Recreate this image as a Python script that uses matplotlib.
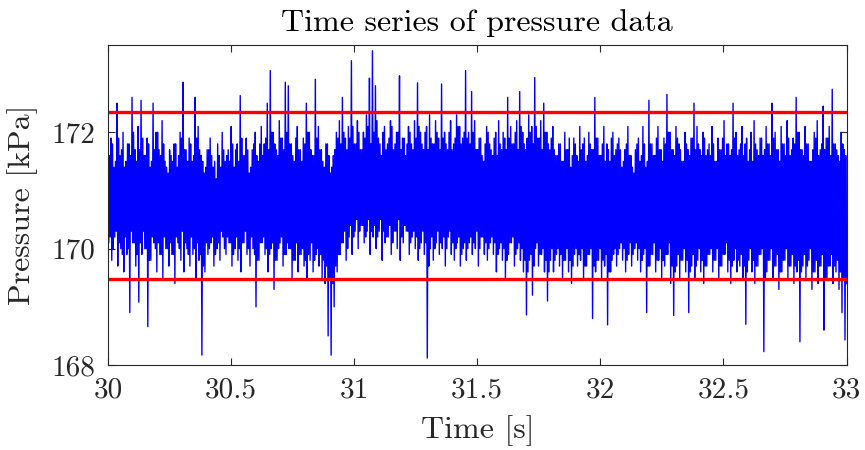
import numpy as np
import matplotlib
matplotlib.use("Agg")
import matplotlib.pyplot as plt

# ---- data ----
t_start, t_end = 30.0, 33.0

# outer excursions (spikes) per ~12 ms
upper_peaks = [
    171.7, 171.9, 171.4, 172.5, 171.6, 172.0, 171.5, 171.8, 172.6, 171.7,
    172.1, 172.55, 171.6, 171.9, 171.4, 172.5, 172.0, 171.7, 172.2, 171.5,
    171.3, 171.6, 171.8, 171.4, 172.0, 172.86, 171.7, 171.9, 171.5, 172.6,
    172.1, 171.6, 171.3, 171.7, 171.9, 171.4, 171.2, 171.6, 172.0, 171.5,
    171.7, 172.1, 171.4, 171.8, 172.63, 171.6, 171.9, 171.3, 171.7, 172.0,
    171.5, 172.1, 171.8, 172.5, 173.06, 172.0, 171.7, 172.2, 171.9, 172.86,
    172.8, 171.8, 171.5, 172.1, 171.7, 171.9, 172.5, 172.0, 171.6, 172.91,
    172.1, 171.7, 171.4, 171.8, 171.3, 171.6, 172.0, 172.2, 172.6, 171.9,
    172.1, 173.23, 171.8, 172.2, 171.7, 172.0, 172.3, 172.93, 173.40, 172.8,
    171.9, 171.6, 172.1, 171.8, 172.2, 171.7, 172.0, 172.97, 171.9, 171.6,
    172.1, 171.8, 172.2, 172.85, 172.0, 171.7, 172.1, 172.3, 171.8, 172.2,
    171.9, 172.83, 172.0, 171.7, 172.2, 171.8, 172.3, 172.1, 171.9, 173.06,
    172.0, 172.7, 172.2, 171.7, 171.9, 171.5, 172.1, 171.8, 171.6, 172.0,
    172.2, 171.7, 171.9, 172.6, 172.1, 171.8, 172.2, 172.7, 172.0, 171.7,
    172.3, 172.1, 172.94, 171.9, 172.2, 172.5, 172.0, 171.7, 172.1, 171.6,
    171.8, 171.5, 172.0, 171.7, 171.4, 171.9, 171.6, 172.1, 171.8, 171.5,
    172.0, 171.7, 172.6, 171.9, 171.6, 172.1, 171.8, 171.5, 172.0, 171.7,
    171.9, 171.4, 171.7, 172.1, 171.6, 171.3, 171.8, 171.5, 172.1, 171.4,
    172.55, 171.8, 171.6, 172.1, 171.7, 171.9, 172.65, 172.0, 171.7, 172.1,
    171.8, 171.5, 172.0, 171.7, 171.9, 172.5, 172.1, 171.7, 172.0, 171.6,
    171.8, 172.1, 171.5, 171.9, 171.7, 172.2, 171.8, 171.6, 172.5, 172.0,
    171.7, 172.1, 171.8, 171.5, 172.0, 172.2, 171.7, 171.9, 171.6, 172.1,
    171.8, 172.5, 172.0, 171.7, 172.1, 171.8, 172.2, 171.6, 171.9, 172.6,
    172.0, 171.7, 172.1, 171.8, 171.5, 172.0, 172.2, 171.7, 172.45, 171.9,
    172.1, 172.74, 171.8, 171.6, 172.0, 171.7,
]

lower_troughs = [
    170.1, 169.8, 170.2, 169.7, 170.0, 169.6, 169.9, 168.9, 170.1, 169.7,
    169.08, 169.9, 170.0, 168.66, 169.8, 170.1, 169.6, 169.9, 169.5, 170.0,
    169.7, 169.9, 169.4, 170.1, 169.8, 169.6, 170.0, 169.7, 169.9, 169.5,
    169.8, 168.17, 169.6, 169.9, 170.1, 169.7, 170.0, 169.8, 170.2, 169.9,
    170.1, 169.7, 170.0, 169.8, 169.6, 170.1, 169.9, 169.7, 170.0, 169.0,
    169.8, 170.1, 169.9, 169.6, 170.0, 169.3, 169.8, 170.1, 169.7, 169.9,
    170.0, 169.5, 169.8, 169.6, 169.9, 169.7, 169.5, 169.8, 169.6, 169.9,
    169.7, 169.5, 169.4, 168.5, 168.17, 169.0, 169.6, 169.9, 170.1, 169.8,
    170.2, 169.9, 170.3, 170.0, 170.4, 170.1, 170.3, 169.9, 170.2, 170.0,
    170.3, 169.8, 170.1, 170.2, 169.9, 170.3, 170.0, 169.8, 170.1, 170.3,
    169.9, 170.2, 170.0, 169.8, 170.1, 169.9, 168.12, 170.0, 169.8, 170.1,
    169.9, 170.0, 169.7, 170.2, 169.9, 169.8, 170.1, 169.7, 170.0, 169.8,
    170.1, 169.9, 170.0, 169.7, 170.2, 169.9, 169.8, 170.1, 169.9, 169.6,
    170.0, 169.8, 169.5, 169.9, 170.1, 169.7, 170.0, 169.8, 169.6, 168.86,
    169.8, 169.2, 170.0, 169.7, 169.9, 169.6, 169.1, 169.8, 169.6, 169.9,
    169.7, 169.5, 169.8, 169.6, 169.4, 169.9, 169.7, 169.8, 169.5, 169.7,
    169.9, 168.8, 169.6, 169.8, 169.5, 169.7, 168.69, 169.6, 169.9, 169.7,
    170.0, 169.8, 169.6, 169.9, 169.7, 170.0, 169.8, 169.6, 169.9, 168.9,
    169.7, 169.9, 169.6, 169.8, 169.5, 169.7, 169.9, 169.4, 168.85, 169.7,
    169.5, 169.8, 169.6, 168.9, 169.7, 169.5, 169.8, 169.6, 169.4, 169.7,
    169.9, 169.6, 169.8, 169.5, 169.7, 169.9, 169.6, 169.4, 169.8, 169.6,
    169.7, 169.5, 168.7, 169.8, 169.6, 169.4, 169.7, 169.9, 168.23, 169.6,
    169.8, 169.5, 169.7, 169.3, 169.6, 169.8, 169.5, 169.7, 169.4, 169.6,
    168.4, 169.7, 169.5, 169.8, 169.3, 169.6, 169.4, 169.7, 168.6, 169.5,
    169.7, 169.4, 169.6, 169.3, 168.9, 168.43,
]

# inner (core band) excursions in between
upper_core = [
    171.6, 171.8, 171.5, 171.9, 171.7, 171.4, 171.8, 171.6, 172.0, 171.5,
    171.7, 171.9, 171.6, 171.8, 171.5, 171.7, 172.0, 171.6, 171.8, 171.4,
    171.7, 171.5, 171.8, 171.6, 171.9, 171.7, 171.5, 171.8, 171.6, 171.9,
    171.7, 171.5, 171.4, 171.7, 171.6, 171.5, 171.8, 171.4, 171.7, 171.6,
    171.5, 171.8, 171.7, 171.5, 171.9, 171.6, 171.7, 171.4, 171.8, 171.6,
    171.8, 171.6, 171.9, 171.7, 172.0, 171.8, 171.6, 171.9, 171.7, 172.0,
    171.8, 171.6, 171.9, 171.7, 171.5, 171.8, 172.0, 171.7, 171.6, 171.9,
    171.7, 171.5, 171.8, 171.6, 171.4, 171.7, 171.9, 171.8, 172.0, 171.7,
    171.9, 172.1, 171.8, 172.0, 171.7, 171.9, 172.1, 171.8, 172.0, 172.2,
    171.8, 172.0, 171.7, 171.9, 172.1, 171.8, 172.0, 171.7, 171.9, 171.8,
    172.0, 171.7, 171.9, 172.1, 171.8, 172.0, 171.7, 171.9, 171.8, 172.0,
    171.7, 171.9, 171.8, 172.0, 171.7, 171.9, 172.1, 171.8, 172.0, 171.9,
    171.8, 172.0, 171.7, 171.9, 171.6, 171.8, 172.0, 171.7, 171.9, 171.6,
    171.8, 172.0, 171.7, 171.9, 171.8, 172.0, 171.7, 172.1, 171.8, 171.9,
    172.0, 171.8, 172.1, 171.9, 171.7, 172.0, 171.8, 171.9, 171.7, 171.6,
    171.8, 171.5, 171.7, 171.9, 171.6, 171.8, 171.5, 171.7, 171.9, 171.6,
    171.8, 171.7, 171.9, 171.6, 171.8, 171.5, 171.7, 171.9, 171.6, 171.8,
    171.7, 171.5, 171.8, 171.6, 171.4, 171.7, 171.9, 171.6, 171.8, 171.5,
    171.8, 171.6, 171.9, 171.7, 171.5, 171.8, 172.0, 171.7, 171.6, 171.9,
    171.7, 171.5, 171.8, 171.6, 171.9, 171.7, 171.8, 171.6, 171.9, 171.7,
    171.6, 171.8, 171.5, 171.7, 171.9, 171.6, 171.8, 171.7, 171.9, 171.6,
    171.8, 171.6, 171.9, 171.7, 171.5, 171.8, 171.6, 171.9, 171.7, 171.8,
    171.6, 171.9, 171.7, 171.5, 171.8, 171.6, 171.9, 171.7, 171.8, 172.0,
    171.7, 171.6, 171.8, 171.5, 171.7, 171.9, 171.6, 171.8, 171.7, 171.9,
    171.6, 171.8, 171.7, 171.5, 171.8, 171.6,
]

lower_core = [
    170.2, 170.0, 170.3, 170.1, 169.9, 170.2, 170.0, 170.3, 170.1, 169.9,
    170.1, 170.3, 170.0, 169.8, 170.2, 170.0, 170.1, 169.9, 170.2, 170.0,
    170.1, 169.9, 170.2, 170.0, 170.3, 170.1, 169.9, 170.2, 170.0, 170.1,
    169.9, 169.7, 170.1, 170.0, 170.2, 169.9, 170.1, 170.3, 170.0, 170.2,
    170.1, 169.9, 170.2, 170.0, 170.1, 170.3, 170.0, 170.2, 169.9, 169.8,
    170.1, 170.2, 170.0, 169.9, 170.1, 169.8, 170.0, 170.2, 169.9, 170.1,
    170.0, 169.8, 170.1, 169.9, 170.0, 169.8, 169.9, 170.1, 169.8, 170.0,
    169.9, 169.8, 169.7, 169.5, 169.4, 169.7, 169.9, 170.1, 170.3, 170.0,
    170.4, 170.2, 170.5, 170.3, 170.4, 170.2, 170.5, 170.3, 170.4, 170.2,
    170.5, 170.3, 170.2, 170.4, 170.1, 170.3, 170.5, 170.2, 170.4, 170.3,
    170.1, 170.3, 170.2, 170.0, 170.3, 170.1, 169.7, 170.2, 170.0, 170.3,
    170.1, 170.2, 170.0, 170.3, 170.1, 170.0, 170.2, 169.9, 170.1, 170.0,
    170.2, 170.1, 170.3, 170.0, 170.2, 170.1, 170.0, 170.2, 170.1, 169.9,
    170.1, 170.0, 169.8, 170.1, 170.2, 169.9, 170.1, 170.0, 169.8, 169.6,
    169.9, 169.7, 170.1, 169.9, 170.0, 169.8, 169.6, 170.0, 169.8, 170.0,
    169.9, 169.8, 170.0, 169.8, 169.7, 170.0, 169.9, 170.0, 169.7, 169.9,
    170.0, 169.7, 169.8, 170.0, 169.8, 169.9, 169.6, 169.8, 170.0, 169.9,
    170.1, 170.0, 169.8, 170.1, 169.9, 170.1, 170.0, 169.8, 170.0, 169.7,
    169.9, 170.1, 169.8, 170.0, 169.8, 169.9, 170.1, 169.7, 169.6, 169.9,
    169.8, 170.0, 169.8, 169.6, 169.9, 169.7, 170.0, 169.8, 169.7, 169.9,
    170.0, 169.8, 170.0, 169.7, 169.9, 170.1, 169.8, 169.7, 170.0, 169.8,
    169.9, 169.7, 169.6, 170.0, 169.8, 169.7, 169.9, 170.0, 169.5, 169.8,
    170.0, 169.7, 169.9, 169.6, 169.8, 170.0, 169.7, 169.9, 169.7, 169.8,
    169.6, 169.9, 169.7, 170.0, 169.6, 169.8, 169.7, 169.9, 169.5, 169.7,
    169.9, 169.7, 169.8, 169.6, 169.5, 169.4,
]

threshold_upper = 172.35
threshold_lower = 169.48

x_ticks = [30, 30.5, 31, 31.5, 32, 32.5, 33]
x_tick_labels = ["30", "30.5", "31", "31.5", "32", "32.5", "33"]
y_ticks = [168, 170, 172]
y_tick_labels = ["168", "170", "172"]

# ---- build series: peak, trough, core-high, core-low, ... ----
n = min(len(upper_peaks), len(lower_troughs), len(upper_core), len(lower_core))
pressure = np.empty(4 * n)
pressure[0::4] = upper_peaks[:n]
pressure[1::4] = lower_troughs[:n]
pressure[2::4] = upper_core[:n]
pressure[3::4] = lower_core[:n]
time = np.linspace(t_start, t_end, 4 * n)

plt.rcParams["font.family"] = ["cmr10", "DejaVu Serif"]
plt.rcParams["axes.formatter.use_mathtext"] = True

fig = plt.figure(figsize=(8.65, 4.5), dpi=100)
ax = fig.add_axes([108 / 865, 85 / 450, 738.5 / 865, 320 / 450])

ax.plot(time, pressure, color=(0, 0, 1), lw=1.0)
ax.axhline(threshold_upper, color=(1, 0, 0), lw=2.4)
ax.axhline(threshold_lower, color=(1, 0, 0), lw=2.4)

ax.set_xlim(30, 33)
ax.set_ylim(168, 173.5)
ax.set_xticks(x_ticks)
ax.set_xticklabels(x_tick_labels)
ax.set_yticks(y_ticks)
ax.set_yticklabels(y_tick_labels)

ax.tick_params(direction="in", top=True, right=True, length=5, width=0.8,
               color="#262626", labelsize=21, pad=9, labelcolor="#262626")
for s in ax.spines.values():
    s.set_color("#262626")
    s.set_linewidth(0.8)

ax.set_xlabel("Time [s]", fontsize=23, color="#262626", labelpad=8)
ax.set_ylabel("Pressure [kPa]", fontsize=23, color="#262626", labelpad=10)
ax.set_title("Time series of pressure data", fontsize=23, color="black", pad=10)

fig.savefig("out.png", dpi=100)
